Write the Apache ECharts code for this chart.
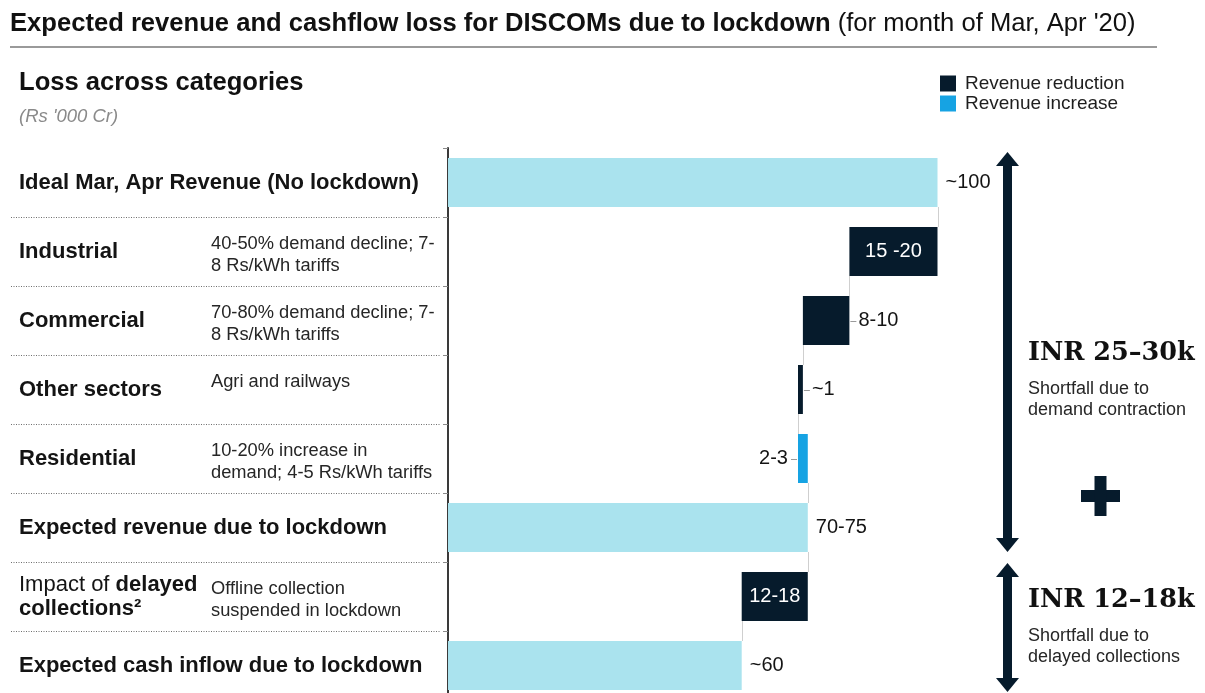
<!DOCTYPE html>
<html>
<head>
<meta charset="utf-8">
<title>DISCOM revenue and cashflow loss</title>
<script src="https://cdn.jsdelivr.net/npm/echarts@6/dist/echarts.min.js"></script>
<style>
  html, body { margin: 0; padding: 0; background: #ffffff; }
  #chart { width: 1205px; height: 693px; }
</style>
</head>
<body>
<div id="chart"></div>
<script>
// Waterfall steps, top to bottom (Rs '000 Cr)
const categories = [
  'Ideal Mar, Apr Revenue (No lockdown)',
  'Industrial',
  'Commercial',
  'Other sectors',
  'Residential',
  'Expected revenue due to lockdown',
  'Impact of delayed collections²',
  'Expected cash inflow due to lockdown'
];
const notes = [
  '',
  '40-50% demand decline; 7-\n8 Rs/kWh tariffs',
  '70-80% demand decline; 7-\n8 Rs/kWh tariffs',
  'Agri and railways',
  '10-20% increase in\ndemand; 4-5 Rs/kWh tariffs',
  '',
  'Offline collection\nsuspended in lockdown',
  ''
];
// 'total' bars start at zero (null = carry the running level), others change it
const kinds = ['total', 'down', 'down', 'down', 'up', 'total', 'down', 'total'];
const changes = [100, 18, 9.5, 1, 2, null, 13.5, null];
const valueLabels = ['~100', '15 -20', '8-10', '~1', '2-3', '70-75', '12-18', '~60'];

const NAVY = '#061b2c';
const CYAN = '#aae3ee';
const BLUE = '#16a3e3';
const FONT = 'Arial, "Liberation Sans", Helvetica, sans-serif';
const SERIF = '"DejaVu Serif", Georgia, serif';
const BAR_RATIO = 0.71;

// Build stacked series: invisible base + visible segment
const baseData = [], totalData = [], downData = [], upData = [], levels = [], lengths = [];
let running = 0;
kinds.forEach(function (k, i) {
  let len;
  if (k === 'total') {
    running = changes[i] != null ? changes[i] : running;
    len = running;
    baseData.push(0); totalData.push(running); downData.push('-'); upData.push('-');
  } else if (k === 'down') {
    len = changes[i];
    running -= len;
    baseData.push(running); downData.push(len); totalData.push('-'); upData.push('-');
  } else {
    len = changes[i];
    baseData.push(running); upData.push(len); totalData.push('-'); downData.push('-');
    running += len;
  }
  levels.push(running);
  lengths.push(len);
});

// labels for changes: wide bars hold the text inside, narrow ones get a leader
const isInside = function (i) { return kinds[i] !== 'total' && lengths[i] >= 10; };
const labelFor = function (i) {
  const base = { show: true, fontFamily: FONT, fontSize: 20, color: '#141414',
                 formatter: function () { return valueLabels[i]; } };
  if (kinds[i] === 'total') return Object.assign(base, { position: 'right', distance: 8 });
  if (isInside(i)) return Object.assign(base, { position: 'inside', color: '#ffffff' });
  if (kinds[i] === 'up') return Object.assign(base, { position: 'left', distance: 10 });
  return Object.assign(base, { position: 'right', distance: 9 });
};
const withLabels = function (arr) {
  return arr.map(function (v, i) {
    return v === '-' ? '-' : { value: v, label: labelFor(i) };
  });
};

const guideData = levels.map(function (lvl, i) { return [lvl, i]; });

function nameLabel(v) {
  const m = v.match(/^(Impact of )(\S+) (.+)$/);
  if (m) return '{r|' + m[1] + '}{b|' + m[2] + '}\n{b|' + m[3] + '}';
  return '{b|' + v + '}';
}

function arrow(x, y1, y2) {
  const hw = 11.5, hh = 14, sw = 4.5;
  return {
    type: 'group',
    children: [
      { type: 'rect', shape: { x: x - sw, y: y1 + hh - 1, width: sw * 2, height: y2 - y1 - 2 * hh + 2 },
        style: { fill: NAVY } },
      { type: 'polygon', shape: { points: [[x - hw, y1 + hh], [x, y1], [x + hw, y1 + hh]] },
        style: { fill: NAVY } },
      { type: 'polygon', shape: { points: [[x - hw, y2 - hh], [x, y2], [x + hw, y2 - hh]] },
        style: { fill: NAVY } }
    ]
  };
}

const chart = echarts.init(document.getElementById('chart'), null, { renderer: 'canvas' });

chart.setOption({
  animation: false,
  backgroundColor: '#ffffff',
  title: [
    {
      left: 5, top: 3,
      text: "{b|Expected revenue and cashflow loss for DISCOMs due to lockdown}{r| (for month of Mar, Apr '20)}",
      textStyle: {
        rich: {
          b: { fontFamily: FONT, fontSize: 25.6, fontWeight: 'bold', color: '#111111', lineHeight: 32 },
          r: { fontFamily: FONT, fontSize: 25.6, fontWeight: 'normal', color: '#111111', lineHeight: 32 }
        }
      }
    },
    {
      left: 14, top: 63,
      text: 'Loss across categories',
      textStyle: { fontFamily: FONT, fontSize: 25.6, fontWeight: 'bold', color: '#111111', lineHeight: 30 },
      subtext: "(Rs '000 Cr)",
      itemGap: 9,
      subtextStyle: { fontFamily: FONT, fontSize: 18.5, fontStyle: 'italic', color: '#8a8a8a' }
    }
  ],
  legend: {
    left: 935, top: 69, orient: 'vertical',
    itemWidth: 16, itemHeight: 16, itemGap: 1,
    icon: 'rect',
    selectedMode: false,
    data: ['Revenue reduction', 'Revenue increase'],
    textStyle: { fontFamily: FONT, fontSize: 19, color: '#1e1e1e', padding: [0, 0, 0, 4] }
  },
  grid: {
    left: 448, top: 148, width: 489.5, height: 552,
    containLabel: false, outerBoundsMode: 'none'
  },
  xAxis: {
    type: 'value', min: 0, max: 100,
    show: false,
    splitLine: { show: false }
  },
  yAxis: {
    type: 'category',
    inverse: true,
    data: categories,
    axisLine: { show: true, lineStyle: { color: '#3a3a3a', width: 2 } },
    axisTick: { show: true, length: 5, lineStyle: { color: '#8a8a8a', width: 1 } },
    axisLabel: {
      interval: 0,
      align: 'left',
      margin: 429,
      formatter: nameLabel,
      rich: {
        b: { fontFamily: FONT, fontSize: 22, fontWeight: 'bold', color: '#141414', lineHeight: 24 },
        r: { fontFamily: FONT, fontSize: 22, fontWeight: 'normal', color: '#141414', lineHeight: 24 }
      }
    },
    splitLine: { show: false }
  },
  series: [
    {
      name: 'base', type: 'bar', stack: 'wf', data: baseData,
      barCategoryGap: '29%',
      itemStyle: { color: 'transparent' },
      silent: true
    },
    {
      name: 'Revenue', type: 'bar', stack: 'wf', data: withLabels(totalData),
      itemStyle: { color: CYAN }
    },
    {
      name: 'Revenue reduction', type: 'bar', stack: 'wf', data: withLabels(downData),
      itemStyle: { color: NAVY }
    },
    {
      name: 'Revenue increase', type: 'bar', stack: 'wf', data: withLabels(upData),
      itemStyle: { color: BLUE }
    },
    {
      // connectors between steps, row separators, label leaders and row notes
      name: 'guides', type: 'custom', data: guideData,
      encode: { x: 0, y: 1 },
      silent: true,
      clip: false,
      z: 1,
      renderItem: function (params, api) {
        const i = api.value(1);
        const lvl = api.value(0);
        const band = api.size([0, 1])[1];
        const half = band * BAR_RATIO / 2;
        const c = api.coord([lvl, i]);
        const axisX = api.coord([0, i])[0];
        const kids = [];
        if (i < categories.length - 1) {
          const nxt = api.coord([lvl, i + 1]);
          kids.push({ type: 'line',
            shape: { x1: Math.round(c[0]) + 0.5, y1: c[1] + half, x2: Math.round(c[0]) + 0.5, y2: nxt[1] - half },
            style: { stroke: '#cfcfcf', lineWidth: 1 } });
          const yb = Math.round((c[1] + nxt[1]) / 2) + 0.5;
          kids.push({ type: 'line',
            shape: { x1: 11, y1: yb, x2: axisX - 7, y2: yb },
            style: { stroke: '#6e6e6e', lineWidth: 1, lineDash: [1, 1.5] } });
        }
        if (kinds[i] !== 'total' && !isInside(i)) {
          const edge = kinds[i] === 'up' ? api.coord([lvl - lengths[i], i])[0] - 1
                                          : api.coord([lvl + lengths[i], i])[0] + 1;
          const dir = kinds[i] === 'up' ? -1 : 1;
          kids.push({ type: 'line',
            shape: { x1: edge, y1: Math.round(c[1]) + 0.5, x2: edge + dir * 6, y2: Math.round(c[1]) + 0.5 },
            style: { stroke: '#9a9a9a', lineWidth: 1 } });
        }
        if (notes[i]) {
          kids.push({ type: 'text',
            x: axisX - 237, y: c[1] - 19,
            style: { text: notes[i], fontFamily: FONT, fontSize: 18.3, fill: '#262626',
                     lineHeight: 22, align: 'left', verticalAlign: 'top' } });
        }
        return { type: 'group', children: kids };
      }
    }
  ],
  graphic: [
    { type: 'line', shape: { x1: 10, y1: 47, x2: 1157, y2: 47 },
      style: { stroke: '#9a9a9a', lineWidth: 2 } },
    arrow(1007.5, 152, 552),
    arrow(1007.5, 563, 692),
    { type: 'text', x: 1028, y: 353,
      style: { text: 'INR 25–30k', fontFamily: SERIF, fontWeight: 'bold',
               fontSize: 25.5, fill: '#111111', verticalAlign: 'middle' } },
    { type: 'text', x: 1028, y: 379,
      style: { text: 'Shortfall due to\ndemand contraction', fontFamily: FONT, fontSize: 18,
               lineHeight: 21, fill: '#262626', verticalAlign: 'top' } },
    { type: 'rect', shape: { x: 1081, y: 490, width: 39, height: 12 }, style: { fill: NAVY } },
    { type: 'rect', shape: { x: 1094.5, y: 476, width: 12, height: 40 }, style: { fill: NAVY } },
    { type: 'text', x: 1028, y: 600,
      style: { text: 'INR 12–18k', fontFamily: SERIF, fontWeight: 'bold',
               fontSize: 25.5, fill: '#111111', verticalAlign: 'middle' } },
    { type: 'text', x: 1028, y: 626,
      style: { text: 'Shortfall due to\ndelayed collections', fontFamily: FONT, fontSize: 18,
               lineHeight: 21, fill: '#262626', verticalAlign: 'top' } }
  ]
});
</script>
</body>
</html>
